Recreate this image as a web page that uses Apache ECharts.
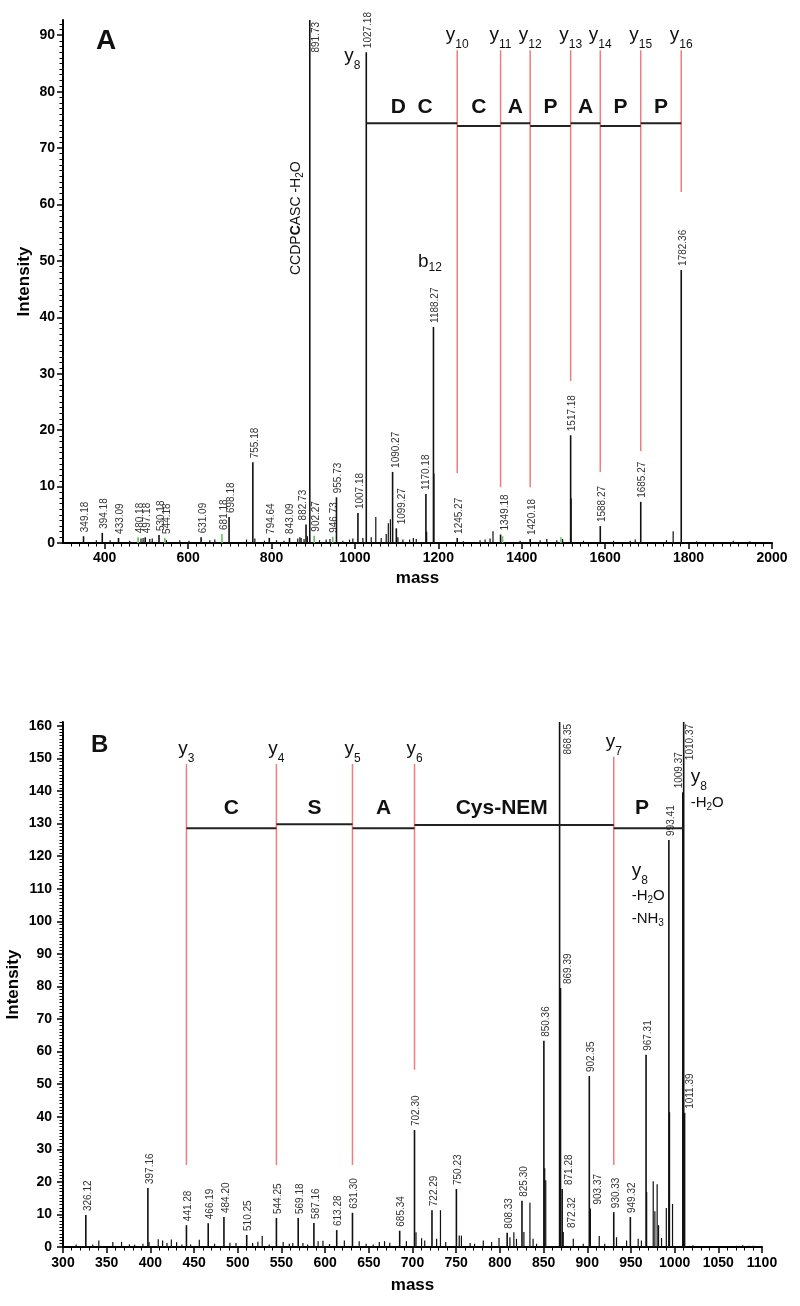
<!DOCTYPE html>
<html><head><meta charset="utf-8">
<script src="https://cdn.jsdelivr.net/npm/echarts@6/dist/echarts.min.js"></script>
<style>html,body{margin:0;padding:0;background:#fff}#c{width:800px;height:1306px}</style>
</head><body><div id="c"></div>
<script>
// ---------------- DATA ----------------
// Panel A axes
const massTicksA = [400, 600, 800, 1000, 1200, 1400, 1600, 1800, 2000];
const intTicksA = [0, 10, 20, 30, 40, 50, 60, 70, 80, 90];
// Panel B axes
const massTicksB = [300, 350, 400, 450, 500, 550, 600, 650, 700, 750, 800, 850, 900, 950, 1000, 1050, 1100];
const intTicksB = [0, 10, 20, 30, 40, 50, 60, 70, 80, 90, 100, 110, 120, 130, 140, 150, 160];

// Panel A labelled peaks [mass, intensity]
const labeledA = [[349.18,1.2],[394.18,1.8],[433.09,0.9],[480.18,1.0],[497.18,1.0],[530.18,1.4],[544.18,0.9],[631.09,1.0],[681.18,1.6],[698.18,4.6],[755.18,14.3],[794.64,0.9],[843.09,0.9],[882.73,3.3],[891.73,92.7],[902.27,1.3],[946.73,1.1],[955.73,8.1],[1007.18,5.3],[1027.18,87.0],[1090.27,12.6],[1099.27,2.6],[1170.18,8.7],[1188.27,38.3],[1245.27,0.9],[1349.18,1.5],[1420.18,0.7],[1517.18,19.1],[1588.27,3.0],[1685.27,7.3],[1782.36,48.4]];
const greenMassA = [480.18, 544.18, 681.18, 902.27, 946.73];
// Panel A unlabelled peaks / baseline
const noiseA = [[380,0.5],[413,0.5],[460,0.4],[487,0.8],[492,0.9],[508,0.7],[514,0.8],[548,0.5],[580,0.5],[602,0.4],[652,0.5],[664,0.6],[740,0.6],[760,0.8],[783,0.4],[812,0.5],[830,0.4],[863,0.8],[868,1.0],[871,0.9],[878,0.7],[886,1.2],[915,0.5],[931,0.6],[940,0.7],[971,0.4],[987,0.6],[995,0.8],[1019,0.9],[1039,1.0],[1050,4.6],[1063,0.9],[1075,1.6],[1080,3.5],[1085,4.2],[1103,1.0],[1115,0.6],[1131,0.6],[1140,0.9],[1147,0.7],[1172,2.0],[1189.5,12.3],[1260,0.3],[1300,0.5],[1312,0.6],[1324,0.8],[1331,2.1],[1396,0.4],[1444,0.5],[1460,0.7],[1484,0.5],[1498,0.7],[1518.5,7.9],[1548,0.4],[1620,0.4],[1660,0.4],[1672,0.6],[1747,0.5],[1763,2.1],[1819,0.3],[1907,0.4],[1947,0.3]];
const greenNoiseA = [[1354,1.2],[1494,1.0]];

// Panel A y-ion ladder
const ionMassA = [1245.27, 1349.18, 1420.18, 1517.18, 1588.27, 1685.27, 1782.36];
const ionNameA = ['10', '11', '12', '13', '14', '15', '16'];
const ionTopA = [87.35, 87.35, 87.35, 87.35, 87.35, 87.35, 87.35];
const ionBottomA = [12.4, 9.9, 9.9, 28.7, 12.6, 16.3, 62.2];
const residueEdgesA = [1027.18, 1245.27, 1349.18, 1420.18, 1517.18, 1588.27, 1685.27, 1782.36];
const residueNamesA = ['D  C', 'C', 'A', 'P', 'A', 'P', 'P'];
const residueLevelA = [74.4, 73.9, 74.4, 73.9, 74.4, 73.9, 74.4];
const residueTextLevelA = 77.2;

// Panel B labelled peaks
const labeledB = [[326.12,9.8],[397.16,18.1],[441.28,6.7],[466.19,7.3],[484.20,9.2],[510.25,3.7],[544.25,8.9],[569.18,8.9],[587.16,7.4],[613.28,5.2],[631.30,10.5],[685.34,5.0],[702.30,35.9],[722.29,11.3],[750.23,17.8],[808.33,4.4],[825.30,14.2],[850.36,63.3],[868.35,161.2],[869.39,79.5],[871.28,17.8],[872.32,4.6],[902.35,52.5],[903.37,11.8],[930.33,10.7],[949.32,9.2],[967.31,59.0],[993.41,125.0],[1009.37,139.6],[1010.37,161.2],[1011.39,41.2]];
const noiseB = [[315,0.8],[334,0.8],[341,2.0],[357,1.5],[367,1.6],[376,0.8],[382,0.7],[391.5,1.0],[398.5,1.5],[409,2.4],[414,2.0],[419,1.2],[424,2.3],[430,1.5],[436,0.8],[446,0.8],[456,2.2],[473.5,1.0],[491,1.3],[498,1.2],[517,1.2],[523,1.6],[528,3.4],[536,0.8],[552,1.5],[559,1.0],[563,1.2],[574.6,1.2],[580,0.8],[592,1.8],[597.5,1.9],[605,0.9],[622,2.0],[639,1.8],[647,1.0],[655,0.8],[662,1.5],[668,1.8],[674,1.3],[693,1.8],[704,4.5],[710.4,2.7],[714,2.0],[727.6,2.5],[732,11.3],[738,1.5],[753.5,3.5],[756,3.5],[766,1.2],[771,1.0],[781,2.0],[790.5,1.5],[799,2.8],[811.5,3.0],[816,4.5],[819,2.5],[827.5,4.6],[834.4,13.6],[838,2.5],[842,1.0],[851.3,24.2],[852.5,20.5],[884,2.5],[895.4,1.0],[913.7,3.4],[920,1.0],[933.5,3.0],[945,2.0],[958.3,2.5],[962,2.0],[968,16.9],[975.5,20.2],[977.4,11.0],[980,19.3],[981.6,6.7],[985,2.8],[990.5,12.0],[994.2,41.4],[997.6,13.2],[1021,0.5],[1071,0.4],[1078,0.5],[1085,0.4],[1090,0.4]];

// Panel B y-ion ladder
const ionMassB = [441.28, 544.25, 631.30, 702.30, 930.33];
const ionNameB = ['3', '4', '5', '6', '7'];
const ionTopB = [148.3, 148.3, 148.3, 148.3, 150.5];
const ionBottomB = [25.2, 25.2, 25.2, 54.4, 25.2];
const residueEdgesB = [441.28, 544.25, 631.30, 702.30, 930.33, 1010.37];
const residueNamesB = ['C', 'S', 'A', 'Cys-NEM', 'P'];
const residueLevelB = [128.6, 129.8, 128.6, 129.6, 128.6];
const residueTextLevelB = 134.8;

// ---------------- STYLE / HELPERS ----------------
const FONT = '"Liberation Sans", Arial, Helvetica, sans-serif';
const MAXA = 92.7, MAXB = 161.2;
const RED = '#f07c7c', GREEN = '#62c262', INK = '#111', LABEL = '#333';
const mctx = document.createElement('canvas').getContext('2d');
function tw(t, size, weight) { mctx.font = (weight || 'normal') + ' ' + size + 'px ' + FONT; return mctx.measureText(t).width; }
function txt(x, y, t, size, o) {
  o = o || {};
  const al = o.align || 'left', va = o.va || 'middle';
  return { type: 'text', x: x, y: y, rotation: o.rot || 0,
    style: { text: t, fontSize: size, fontWeight: o.weight || 'normal', fontFamily: FONT, fill: o.fill || INK,
      align: al, verticalAlign: va, textAlign: al, textVerticalAlign: va } };
}
function segs(x, y, list, rot) {
  let cx = 0; const ch = [];
  list.forEach(function (s) { ch.push(txt(cx, s.dy || 0, s.t, s.size, { weight: s.weight })); cx += tw(s.t, s.size, s.weight); });
  return { type: 'group', x: x, y: y, rotation: rot || 0, children: ch };
}
function ionLabel(cx, topPx, sub) {
  const w = tw('y', 19) + tw(sub, 12);
  return segs(cx - w / 2, topPx - 15.3, [{ t: 'y', size: 19 }, { t: sub, size: 12, dy: 9.8 }]);
}

const shifts = { '882.73': -3, '1349.18': 5, '1099.27': 6, '1090.27': 3.5, '1170.18': 0.5, '843.09': 1,
  '869.39': 8, '871.28': 7, '872.32': 9, '903.37': 8, '1011.39': 6, '1009.37': -4, '891.73': 6, '868.35': 9, '1010.37': 7 };

function peaksSeries(gi, data, colorFn, lw, labelled, axisMax) {
  return {
    type: 'custom', xAxisIndex: gi, yAxisIndex: gi, data: data, silent: true, animation: false,
    renderItem: function (params, api) {
      const m = api.value(0), v = api.value(1);
      const p0 = api.coord([m, 0]), p1 = api.coord([m, v]);
      const ch = [{ type: 'line', shape: { x1: p0[0], y1: p0[1], x2: p1[0], y2: p1[1] },
        style: { stroke: colorFn(m), lineWidth: lw } }];
      if (labelled) {
        const t = m.toFixed(2);
        const dx = shifts[t] !== undefined ? shifts[t] : 2;
        if (v >= axisMax) {
          ch.push(txt(p1[0] + dx, params.coordSys.y + 2, t, 10, { rot: Math.PI / 2, align: 'right', fill: LABEL }));
        } else {
          ch.push(txt(p1[0] + dx, p1[1] - 4, t, 10, { rot: Math.PI / 2, align: 'left', fill: LABEL }));
        }
      }
      return { type: 'group', children: ch };
    }
  };
}
function ladderSeries(gi, masses, tops, bottoms, names) {
  return {
    type: 'custom', xAxisIndex: gi, yAxisIndex: gi, silent: true, animation: false,
    data: masses.map(function (m, i) { return [m, tops[i], bottoms[i]]; }),
    renderItem: function (params, api) {
      const m = api.value(0);
      const pt = api.coord([m, api.value(1)]), pb = api.coord([m, api.value(2)]);
      return { type: 'group', children: [
        { type: 'line', shape: { x1: pt[0], y1: pt[1], x2: pb[0], y2: pb[1] }, style: { stroke: RED, lineWidth: 1.5 } },
        ionLabel(pt[0], pt[1], names[params.dataIndex])
      ] };
    }
  };
}
function residueSeries(gi, edges, levels, names, textLevel, dxMap) {
  const data = levels.map(function (l, i) { return [edges[i], edges[i + 1], l]; });
  return {
    type: 'custom', xAxisIndex: gi, yAxisIndex: gi, silent: true, animation: false, data: data,
    encode: { x: [0, 1], y: 2 },
    renderItem: function (params, api) {
      const a = api.coord([api.value(0), api.value(2)]), b = api.coord([api.value(1), api.value(2)]);
      const tpos = api.coord([(api.value(0) + api.value(1)) / 2, textLevel]);
      const nm = names[params.dataIndex];
      const dx = dxMap[nm] || 0;
      return { type: 'group', children: [
        { type: 'line', shape: { x1: a[0], y1: a[1], x2: b[0], y2: b[1] }, style: { stroke: '#222', lineWidth: 2 } },
        txt(tpos[0] + dx, tpos[1], nm, 21, { align: 'center', weight: 'bold' })
      ] };
    }
  };
}
// free annotations anchored on peaks [mass, intensity]; text layout in notes
const notesA = [[1027.18, 86.4], [1188.27, 49.9], [891.73, 47.5]];
const notesB = [[1010.37, 144.4], [993.41, 115.4]];
const notesLayoutA = [
  { dx: -22, parts: [[0, [{ t: 'y', size: 19 }, { t: '8', size: 12, dy: 9.8 }]]] },
  { dx: -15.5, parts: [[0, [{ t: 'b', size: 19 }, { t: '12', size: 12, dy: 6 }]]] },
  { dx: -13.8, rot: Math.PI / 2, parts: [[0, [{ t: 'CCDP', size: 14 }, { t: 'C', size: 14, weight: 'bold' }, { t: 'ASC -H', size: 14 }, { t: '2', size: 10, dy: 4 }, { t: 'O', size: 14 }]]] }
];
const notesLayoutB = [
  { dx: 7, parts: [[0, [{ t: 'y', size: 19 }, { t: '8', size: 12, dy: 9.8 }]], [26.6, [{ t: '-H', size: 15 }, { t: '2', size: 10, dy: 4 }, { t: 'O', size: 15 }]]] },
  { dx: -37.2, parts: [[0, [{ t: 'y', size: 19 }, { t: '8', size: 12, dy: 9.8 }]], [25.1, [{ t: '-H', size: 15 }, { t: '2', size: 10, dy: 4 }, { t: 'O', size: 15 }]], [48.1, [{ t: '-NH', size: 15 }, { t: '3', size: 10, dy: 4 }]]] }
];
function notesSeries(gi, data, layout) {
  return {
    type: 'custom', xAxisIndex: gi, yAxisIndex: gi, silent: true, animation: false, data: data,
    renderItem: function (params, api) {
      const p = api.coord([api.value(0), api.value(1)]);
      const L = layout[params.dataIndex];
      return { type: 'group', children: L.parts.map(function (pp) { return segs(p[0] + L.dx, p[1] + pp[0], pp[1], L.rot || 0); }) };
    }
  };
}

function plain(v) { return String(v); }
function labelCfg(ticks, margin) {
  return { color: '#000', fontWeight: 'bold', fontSize: 14, fontFamily: FONT, customValues: ticks, margin: margin, formatter: plain };
}
function xAxisCfg(gi, min, max, ticks, minorSplit, extra) {
  return Object.assign({
    gridIndex: gi, type: 'value', min: min, max: max, name: 'mass', nameLocation: 'middle', nameMoveOverlap: false,
    nameTextStyle: { color: '#000', fontWeight: 'bold', fontSize: 17, fontFamily: FONT },
    axisLine: { show: true, onZero: false, lineStyle: { color: '#000', width: 2 } },
    axisTick: { show: true, length: 6, customValues: ticks, lineStyle: { color: '#000', width: 1.5 } },
    minorTick: { show: true, splitNumber: minorSplit, length: 3.5, lineStyle: { color: '#000', width: 1 } },
    splitLine: { show: false }, minorSplitLine: { show: false }
  }, extra);
}
function yAxisCfg(gi, max, ticks, extra) {
  return Object.assign({
    gridIndex: gi, type: 'value', min: 0, max: max, interval: 10, name: 'Intensity', nameLocation: 'middle', nameMoveOverlap: false,
    nameTextStyle: { color: '#000', fontWeight: 'bold', fontSize: 17, fontFamily: FONT },
    axisLine: { show: true, onZero: false, lineStyle: { color: '#000', width: 2 } },
    axisTick: { show: true, length: 6, customValues: ticks, lineStyle: { color: '#000', width: 1.5 } },
    minorTick: { show: true, splitNumber: 10, length: 3.5, lineStyle: { color: '#000', width: 1 } },
    splitLine: { show: false }, minorSplitLine: { show: false }
  }, extra);
}

const chart = echarts.init(document.getElementById('c'), null, { renderer: 'canvas' });
const greenSet = new Set(greenMassA.map(function (m) { return m.toFixed(2); }));
chart.setOption({
  backgroundColor: '#fff',
  animation: false,
  grid: [
    { left: 63, top: 20, width: 709, height: 523, containLabel: false, outerBoundsMode: 'none' },
    { left: 63, top: 722, width: 699, height: 525, containLabel: false, outerBoundsMode: 'none' }
  ],
  xAxis: [
    xAxisCfg(0, 300, 2000, massTicksA, 10, { splitNumber: 8, nameGap: 27, axisLabel: labelCfg(massTicksA, 8) }),
    xAxisCfg(1, 300, 1100, massTicksB, 5, { interval: 50, nameGap: 30, axisLabel: labelCfg(massTicksB, 9) })
  ],
  yAxis: [
    yAxisCfg(0, MAXA, intTicksA, { nameGap: 30, axisLabel: labelCfg(intTicksA, 8) }),
    yAxisCfg(1, MAXB, intTicksB, { nameGap: 41, axisLabel: labelCfg(intTicksB, 11) })
  ],
  graphic: [
    txt(96, 41.7, 'A', 28, { weight: 'bold' }),
    txt(91, 745, 'B', 24, { weight: 'bold' })
  ],
  series: [
    peaksSeries(0, noiseA, function () { return INK; }, 1.2, false, MAXA),
    peaksSeries(0, greenNoiseA, function () { return GREEN; }, 1.5, false, MAXA),
    peaksSeries(0, labeledA, function (m) { return greenSet.has(m.toFixed(2)) ? GREEN : INK; }, 1.6, true, MAXA),
    ladderSeries(0, ionMassA, ionTopA, ionBottomA, ionNameA),
    residueSeries(0, residueEdgesA, residueLevelA, residueNamesA, residueTextLevelA, {}),
    notesSeries(0, notesA, notesLayoutA),
    peaksSeries(1, noiseB, function () { return INK; }, 1.2, false, MAXB),
    peaksSeries(1, labeledB, function () { return INK; }, 1.6, true, MAXB),
    ladderSeries(1, ionMassB, ionTopB, ionBottomB, ionNameB),
    residueSeries(1, residueEdgesB, residueLevelB, residueNamesB, residueTextLevelB, { 'Cys-NEM': -12.4, 'P': -6.8 }),
    notesSeries(1, notesB, notesLayoutB)
  ]
});
</script></body></html>
